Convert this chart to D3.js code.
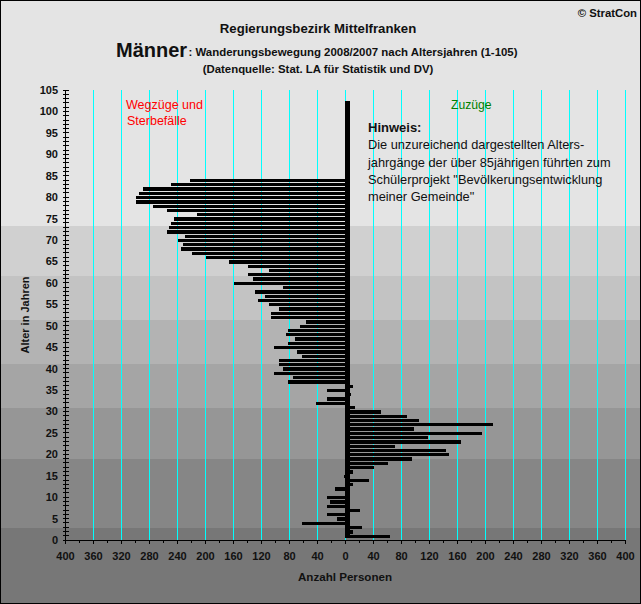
<!DOCTYPE html>
<html><head><meta charset="utf-8">
<script src="https://cdn.jsdelivr.net/npm/d3@7"></script>
<style>html,body{margin:0;padding:0;background:#fff}svg{display:block}text{font-family:"Liberation Sans",Arial,sans-serif}</style>
</head><body><div id="c"></div>
<script>
// Age of each row, top to bottom
const ages = d3.range(84, 0, -1);
// Net migration per age (negative = Wegzüge, positive = Zuzüge)
const values = [
 -221,-249,-288,-295,-299,-299,-274,-255,-212,-244,-249,-252,-254,-229,-238,-232,-235,-219,-199,-166,
 -139,-109,-138,-132,-159,-88,-129,-115,-125,-109,-95,-106,-106,-56,-65,-82,-85,-72,-81,-102,
 -69,-61,-94,-95,-89,-102,-75,-81,12,-26,8,-26,-42,14,52,88,106,212,99,196,
 119,165,72,144,149,96,62,42,12,-2,34,12,-15,0,-26,-21,-26,22,-26,-12,
 -62,24,12,64];
const spineTopAge = 102;
const spineValue = 7;
const bandEdges = [73.3,61.6,51.3,41,30.8,18.9,2.8];
const bandColors = ["#e4e4e4","#d0d0d0","#c3c3c3","#b3b3b3","#a5a5a5","#969696","#868686","#777777"];
const xMajor = d3.range(-400, 401, 40);
const xMinor = d3.range(-400, 401, 20);
const yMajor = d3.range(0, 106, 5);
const yMinor = d3.range(0, 106, 1);
const noteLines = ["Die unzureichend dargestellten Alters-","jahrgänge der über 85jährigen führten zum","Schülerprojekt \"Bevölkerungsentwicklung","meiner Gemeinde\""];

const W=641,H=604;
const x=d3.scaleLinear().domain([-400,400]).range([65.5,625.5]);
const y=d3.scaleLinear().domain([0,105]).range([540,90]);
const svg=d3.select("#c").append("svg").attr("width",W).attr("height",H);
const px=v=>Math.floor(x(v));

// background bands
const edges=[0,...bandEdges.map(a=>y(a)),H];
svg.selectAll("rect.band").data(bandColors).join("rect").attr("class","band")
  .attr("x",0).attr("width",W).attr("y",(d,i)=>edges[i]).attr("height",(d,i)=>edges[i+1]-edges[i]).attr("fill",d=>d)
  .attr("shape-rendering","crispEdges");

// grid
svg.selectAll("line.grid").data(xMajor.filter(v=>v>-400)).join("line").attr("class","grid")
  .attr("x1",d=>x(d)).attr("x2",d=>x(d)).attr("y1",y(105)).attr("y2",y(0))
  .attr("stroke","#00ffff").attr("stroke-width",1).attr("shape-rendering","crispEdges");

// bars: each row fills its age slot, leaving one pixel between rows
const rowTop=a=>Math.round(y(a+.5))+1, rowBottom=a=>Math.round(y(a-.5));
svg.selectAll("rect.bar").data(values).join("rect").attr("class","bar")
  .attr("x",d=>px(Math.min(d,0))).attr("width",d=>Math.abs(px(d)-px(0)))
  .attr("y",(d,i)=>rowTop(ages[i])).attr("height",(d,i)=>rowBottom(ages[i])-rowTop(ages[i])).attr("fill","#000").attr("shape-rendering","crispEdges");
svg.append("rect").attr("x",px(0)).attr("width",px(spineValue)-px(0)).attr("y",y(spineTopAge+.5)).attr("height",y(.5)-y(spineTopAge+.5)).attr("fill","#000").attr("shape-rendering","crispEdges");

// axes
const ga=svg.append("g").attr("stroke","#000").attr("shape-rendering","crispEdges");
ga.append("line").attr("x1",x(-400)).attr("x2",x(400)).attr("y1",y(0)).attr("y2",y(0));
ga.append("line").attr("x1",x(-400)).attr("x2",x(-400)).attr("y1",y(105)).attr("y2",y(0));
ga.selectAll("line.xt").data(xMinor).join("line").attr("class","xt")
  .attr("x1",d=>x(d)).attr("x2",d=>x(d)).attr("y1",y(0)).attr("y2",d=>y(0)+(d%40===0?4:3));
ga.selectAll("line.yt").data(yMinor).join("line").attr("class","yt")
  .attr("y1",d=>y(d)).attr("y2",d=>y(d)).attr("x1",d=>x(-400)-3).attr("x2",d=>x(-400)+3);

const label=(sel)=>sel.attr("font-size",11).attr("font-weight","bold").attr("fill","#111");
svg.selectAll("text.xl").data(xMajor).join("text").attr("class","xl").call(label)
  .attr("x",d=>x(d)).attr("y",560).attr("text-anchor","middle").text(d=>Math.abs(d));
svg.selectAll("text.yl").data(yMajor).join("text").attr("class","yl").call(label)
  .attr("x",58).attr("y",d=>y(d)+4).attr("text-anchor","end").text(d=>d);

const T=(s,px,py,fs,opt={})=>svg.append("text").attr("x",px).attr("y",py).attr("font-size",fs)
  .attr("font-weight",opt.w||"normal").attr("fill",opt.c||"#111").attr("text-anchor",opt.a||"start").text(s);
T("© StratCon",637,17,11.3,{w:"bold",a:"end"});
T("Regierungsbezirk Mittelfranken",318,33,13.2,{w:"bold",a:"middle"});
T("Männer",116,57,20,{w:"bold"});
T(": Wanderungsbewegung 2008/2007 nach Altersjahren (1-105)",188.5,56,11.45,{w:"bold"});
T("(Datenquelle: Stat. LA für Statistik und DV)",318,73,11.4,{w:"bold",a:"middle"});
T("Wegzüge und",126,109,12.5,{c:"#ff0000"});
T("Sterbefälle",127,125,12.5,{c:"#ff0000"});
T("Zuzüge",451,109,12.2,{c:"#008000"});
T("Hinweis:",368,132,13,{w:"bold"});
noteLines.forEach((l,i)=>T(l,368,[149,167,184,201][i],12.8));
T("Anzahl Personen",345,581,11.6,{w:"bold",a:"middle"});
svg.append("text").attr("transform","translate(29,315) rotate(-90)").attr("font-size",11).attr("font-weight","bold").attr("fill","#111").attr("text-anchor","middle").text("Alter in Jahren");

// border
svg.append("rect").attr("x",.5).attr("y",.5).attr("width",W-1).attr("height",H-1).attr("fill","none").attr("stroke","#000").attr("shape-rendering","crispEdges");
</script></body></html>
